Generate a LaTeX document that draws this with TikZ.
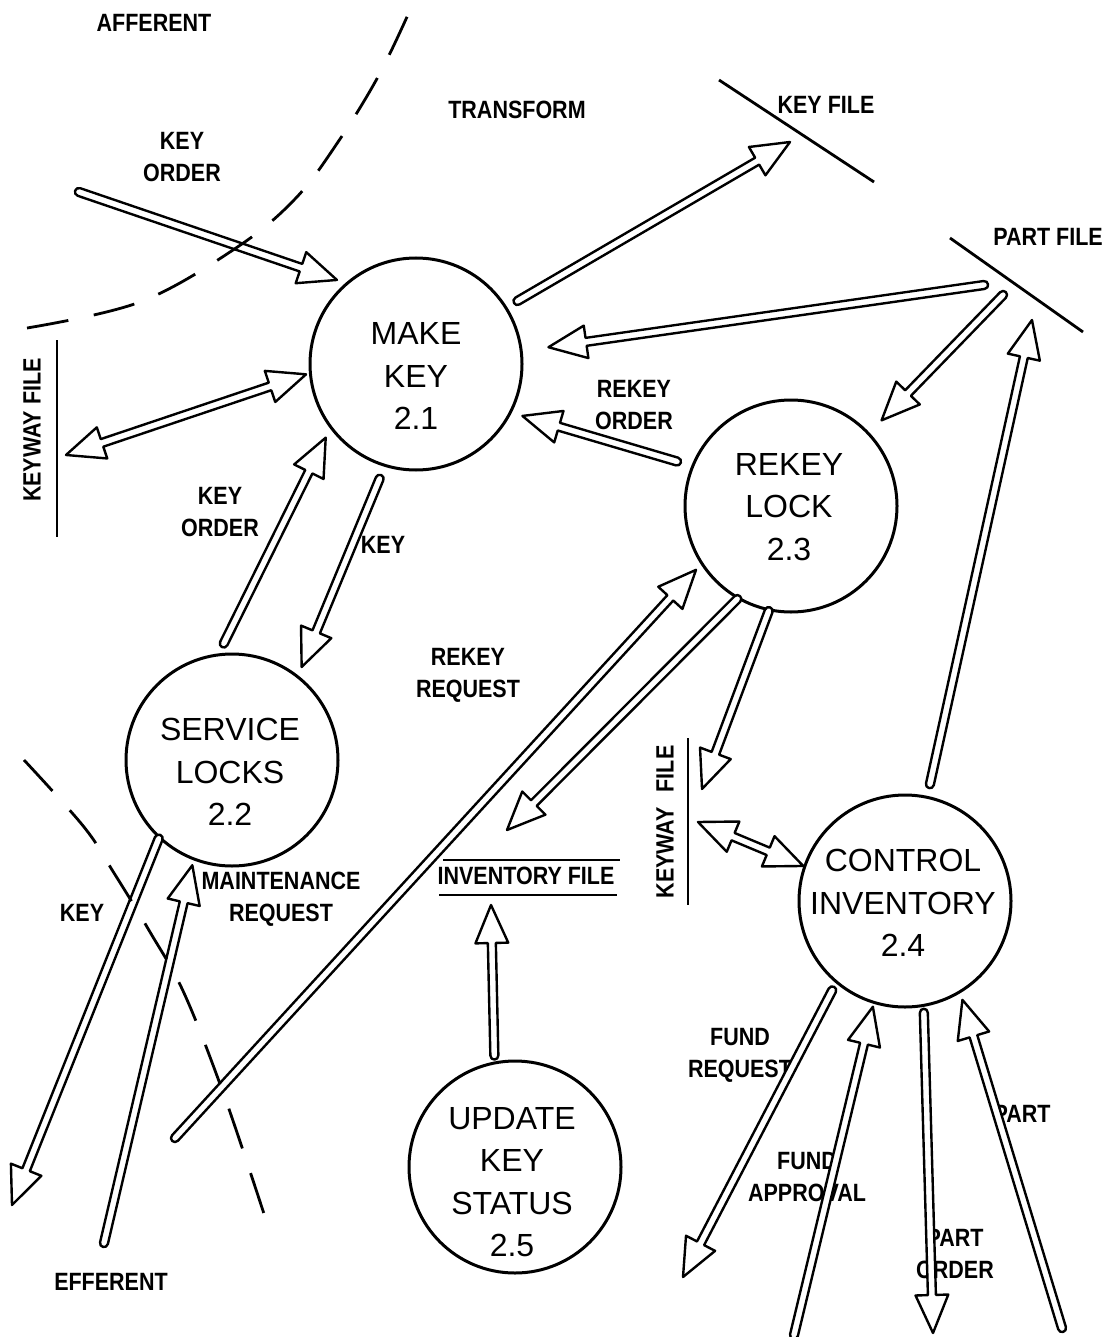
\documentclass[tikz,border=0pt]{standalone}
\usepackage{fontspec}
\setmainfont{Liberation Sans}
\newfontfamily\lblfont{Liberation Sans}[FakeStretch=0.86]
\usetikzlibrary{calc}

\def\flowga{0pt}
\def\flowge{0pt}

\tikzset{
  ga/.code={\def\flowga{#1}},
  ge/.code={\def\flowge{#1}},
  % local frame of a connector: origin at its start, x axis along it
  fr/.style={shift={(\p1)}, rotate=\n1},
  flowbase/.style={draw, fill=white, line width=1.2pt, line join=round, ga=0pt, ge=0pt},
  % hollow data-flow arrow: outlined shaft, open triangular head
  flow/.style={flowbase, to path={
    let \p1=(\tikztostart), \p2=(\tikztotarget),
        \n1={atan2(\y2-\y1,\x2-\x1)}, \n2={veclen(\x2-\x1,\y2-\y1)} in
    ([fr]{\flowga},2pt)
    -- ([fr]{\n2-\flowge-19pt},2pt)
    -- ([fr]{\n2-\flowge-19pt},8.2pt)
    -- ([fr]{\n2-\flowge},0pt)
    -- ([fr]{\n2-\flowge-19pt},-8.2pt)
    -- ([fr]{\n2-\flowge-19pt},-2pt)
    -- ([fr]{\flowga},-2pt)
    .. controls ([fr]{\flowga-2.7pt},-2pt) and ([fr]{\flowga-2.7pt},2pt) .. ([fr]{\flowga},2pt)
    -- cycle}},
  % the same with a head at both ends
  flowtwo/.style={flowbase, to path={
    let \p1=(\tikztostart), \p2=(\tikztotarget),
        \n1={atan2(\y2-\y1,\x2-\x1)}, \n2={veclen(\x2-\x1,\y2-\y1)} in
    ([fr]{\flowga+19pt},2pt)
    -- ([fr]{\n2-\flowge-19pt},2pt)
    -- ([fr]{\n2-\flowge-19pt},8.2pt)
    -- ([fr]{\n2-\flowge},0pt)
    -- ([fr]{\n2-\flowge-19pt},-8.2pt)
    -- ([fr]{\n2-\flowge-19pt},-2pt)
    -- ([fr]{\flowga+19pt},-2pt)
    -- ([fr]{\flowga+19pt},-8.2pt)
    -- ([fr]{\flowga},0pt)
    -- ([fr]{\flowga+19pt},8.2pt)
    -- cycle}},
}

\begin{document}
\begin{tikzpicture}[x=0.5pt, y=-0.5pt,
  proc/.style={circle, draw, line width=1.5pt, inner sep=0pt, minimum size=106pt},
  ptext/.style={align=center, inner sep=0pt, font=\fontsize{16}{21.25}\selectfont},
  lbl/.style={align=center, inner sep=0pt, font=\lblfont\bfseries\fontsize{12.5}{16}\selectfont},
  store/.style={line width=1.4pt},
  bound/.style={line width=1.4pt, dash pattern=on 21pt off 13pt},
]
\useasboundingbox (0,0) rectangle (1119,1337);

% processes
\node[proc] (mk) at (416,364) {};
\node[ptext] (mk-t) at (416,376) {MAKE\\KEY\\2.1};
\node[proc] (sl) at (232,760) {};
\node[ptext] (sl-t) at (230,772) {SERVICE\\LOCKS\\2.2};
\node[proc] (rl) at (791,506) {};
\node[ptext] (rl-t) at (789,507) {REKEY\\LOCK\\2.3};
\node[proc] (ci) at (905,901) {};
\node[ptext] (ci-t) at (903,903) {CONTROL\\INVENTORY\\2.4};
\node[proc] (uk) at (515,1167) {};
\node[ptext] (uk-t) at (512,1182) {UPDATE\\KEY\\STATUS\\2.5};

% data stores
\coordinate (kf1) at (719,80);  \coordinate (kf2) at (874,182);
\coordinate (pf1) at (950,238); \coordinate (pf2) at (1083,332);
\coordinate (kl1) at (57,340);  \coordinate (kl2) at (57,537);
\coordinate (kr1) at (688,738); \coordinate (kr2) at (688,905);
\coordinate (if1) at (443,860); \coordinate (if2) at (620,860);
\coordinate (if3) at (439,895); \coordinate (if4) at (617,895);
\draw[store] (kf1) -- (kf2);
\draw[store] (pf1) -- (pf2);
\draw[store] (kl1) -- (kl2);
\draw[store] (kr1) -- (kr2);
\draw[store] (if1) -- (if2);
\draw[store] (if3) -- (if4);
\node[lbl] (kf-l) at (826,105) {KEY FILE};
\node[lbl] (pf-l) at (1048,237) {PART FILE};
\node[lbl, rotate=90] (kl-l) at (32,430) {KEYWAY FILE};
\node[lbl, rotate=90] (kr-l) at (665,822) {KEYWAY\hspace{0.6em}FILE};
\node[lbl] (if-l) at (526,876) {INVENTORY FILE};

% region names and flow labels
\node[lbl] (aff) at (154,23) {AFFERENT};
\node[lbl] (trn) at (517,110) {TRANSFORM};
\node[lbl] (eff) at (111,1282) {EFFERENT};
\node[lbl] (l1) at (182,157) {KEY\\ORDER};
\node[lbl] (l2) at (634,405) {REKEY\\ORDER};
\node[lbl] (l3) at (220,512) {KEY\\ORDER};
\node[lbl] (l4) at (383,545) {KEY};
\node[lbl] (l5) at (468,675) {REKEY\\REQUEST};
\node[lbl] (l6) at (281,899) {MAINTENANCE\\REQUEST};
\node[lbl] (l7) at (82,913) {KEY};
\node[lbl] (l8) at (740,1055) {FUND\\REQUEST};
\node[lbl] (l9) at (807,1177) {FUND\\APPROVAL};
\node[lbl] (l10) at (1022,1114) {PART};
\node[lbl] (l11) at (955,1254) {PART\\ORDER};

% free ends of the flows
\coordinate (ko-src) at (79,192);
\coordinate (kf-in) at (790,142);
\coordinate (pf-a) at (984,285);
\coordinate (pf-b) at (1003,295);
\coordinate (pf-c) at (1032,320);
\coordinate (kl-a) at (66,455);
\coordinate (rr-src) at (175,1138);
\coordinate (if-a) at (507,830);
\coordinate (if-b) at (491,905);
\coordinate (kr-a) at (702,789);
\coordinate (kr-b) at (698,822);
\coordinate (key-out) at (12,1205);
\coordinate (mr-src) at (104,1243);
\coordinate (fr-out) at (683,1277);
\coordinate (fa-src) at (794,1335);
\coordinate (po-out) at (933,1333);
\coordinate (pt-src) at (1062,1328);

% flows
\draw[flow, ge=4.5pt] (ko-src) to (mk.131);
\draw[flow, ga=6pt] (mk.32) to (kf-in);
\draw[flow, ge=13pt] (pf-a) to (mk.7);
\draw[flow, ge=8.5pt] (pf-b) to (rl.43);
\draw[flow, ga=6pt] (ci.78) to (pf-c);
\draw[flow, ga=7.5pt, ge=5.5pt] (rl.158) to (mk.333);
\draw[flowtwo, ge=1.5pt] (kl-a) to (mk.185);
\draw[flow, ga=5.5pt, ge=5pt] (sl.97) to (mk.217);
\draw[flow, ga=6.5pt, ge=4.5pt] (mk.253) to (sl.52);
\draw[flow, ge=3.5pt] (rr-src) to (rl.213);
\draw[flow] (rl.240) to (if-a);
\draw[flow] (rl.258) to (kr-a);
\draw[flowtwo] (kr-b) to (ci.161);
\draw[flow, ga=3pt] (uk.101) to (if-b);
\draw[flow] (sl.227) to (key-out);
\draw[flow, ge=2.5pt] (mr-src) to (sl.249);
\draw[flow, ga=4pt] (ci.230) to (fr-out);
\draw[flow, ge=1.5pt] (fa-src) to (ci.253);
\draw[flow, ga=3pt] (ci.280) to (po-out);
\draw[flow, ge=3.5pt] (pt-src) to (ci.301);

% afferent / transform / efferent boundaries
\draw[bound] plot[smooth, tension=0.6] coordinates
  {(27,328) (140,302) (236,248) (295,199) (338,142) (379,75) (411,8)};
\draw[bound] plot[smooth, tension=0.6] coordinates
  {(24,760) (84,827) (114,873) (150,932) (184,993) (224,1095) (266,1220)};
\end{tikzpicture}
\end{document}
